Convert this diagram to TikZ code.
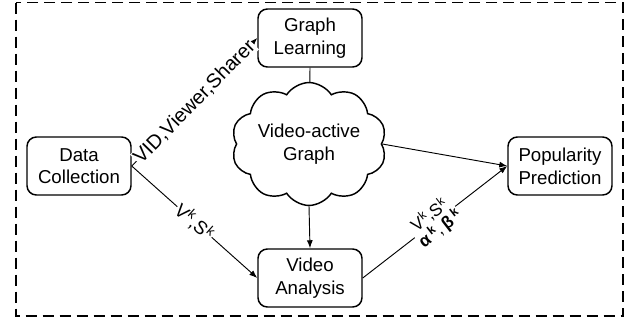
\documentclass[tikz,border=0pt]{standalone}
\usepackage{fontspec}
\setmainfont{Liberation Sans}
\usetikzlibrary{shapes.symbols,arrows.meta}
\begin{document}
\begin{tikzpicture}[x=0.75pt,y=-0.75pt,
  box/.style={draw, line width=1.1pt, rounded corners=7pt, minimum width=78pt, minimum height=43.5pt, align=center, inner sep=1pt, font=\fontsize{14}{17}\selectfont},
  conn/.style={line width=0.7pt},
  arr/.style={conn, -{Latex[length=6pt,width=4.5pt]}},
  lbl/.style={sloped, fill=white, inner sep=0.5pt, font=\fontsize{15}{15}\selectfont},
  mlbl/.style={sloped, fill=white, inner sep=0.5pt, font=\fontsize{14}{14}\selectfont},
  slbl/.style={sloped, fill=white, inner sep=0.5pt, align=center, font=\fontsize{13}{13}\selectfont}]
\useasboundingbox (0,0) rectangle (641,325);
\draw[line width=1.1pt, dash pattern=on 8.25pt off 4.5pt] (16,2.5) rectangle (623,316);
\node[box] (dc) at (79,166) {Data\\Collection};
\node[box] (gl) at (310,38) {Graph\\Learning};
\node[box] (va) at (310,278) {Video\\Analysis};
\node[box] (pp) at (560,166) {Popularity\\Prediction};
\node[cloud, draw, cloud puffs=10, cloud puff arc=115, aspect=1.4, minimum width=105pt, minimum height=75pt, line width=1.1pt, align=center, inner sep=0pt, font=\fontsize{14}{17}\selectfont] (vg) at (309,144) {Video-active\\Graph};
\draw[arr] (dc.east) -- node[lbl] {VID,Viewer,Sharer} (gl.west);
\draw[arr] (dc.east) -- node[mlbl] {V\textsuperscript{k},S\textsuperscript{k}} (va.west);
\draw[arr] (va.east) -- node[slbl] {V\textsuperscript{k},S\textsuperscript{k}\\\textbf{α}\,\textsuperscript{\textbf{k}},\,\textbf{β}\,\textsuperscript{\textbf{k}}} (pp.west);
\draw[arr] (vg.east) -- (pp.west);
\draw[conn] (gl.south) -- (vg);
\draw[arr] (vg.south) -- (va.north);
\end{tikzpicture}
\end{document}
